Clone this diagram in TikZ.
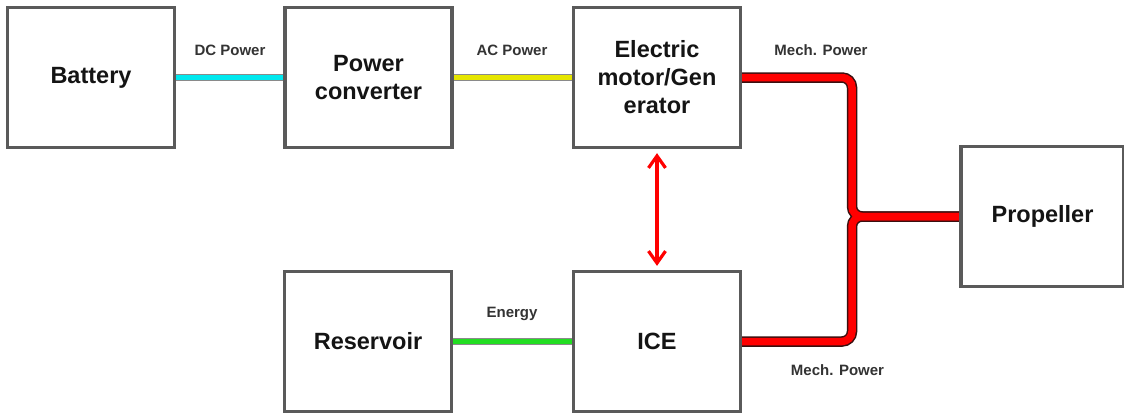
\documentclass[tikz,border=0pt]{standalone}
\usepackage{fontspec}
\setmainfont{Liberation Sans}
\usetikzlibrary{arrows.meta}
\definecolor{boxgray}{HTML}{5A5A5A}
\definecolor{labgray}{HTML}{333333}
\definecolor{cyanline}{HTML}{00E8EE}
\definecolor{yellowline}{HTML}{E6E600}
\definecolor{greenline}{HTML}{22DD22}
\definecolor{edgegray}{HTML}{8A8A8A}
\definecolor{darkedge}{HTML}{3A1010}
\tikzset{
  block/.style={draw=boxgray, line width=2.3pt, fill=white, minimum width=166pt, minimum height=139pt, inner sep=0pt, align=center, font=\fontsize{23.5}{28}\selectfont\bfseries, text=black!92},
  lab/.style={font=\fontsize{15}{18}\selectfont\bfseries, text=labgray},
  outer/.style={line width=7pt, draw=edgegray},
  redouter/.style={line width=10.5pt, draw=darkedge, rounded corners=10pt},
  redinner/.style={line width=7.5pt, draw=red, rounded corners=10pt},
}
\begin{document}
\begin{tikzpicture}[x=1pt,y=-1pt]
\useasboundingbox (0,0) rectangle (1124,413);
\fill[white] (0,0) rectangle (1124,413);
% nodes
\node[block] (bat) at (91,77.5) {Battery};
\node[block] (conv) at (368.5,77.5) {Power\\converter};
\node[block] (mot) at (657,77.5) {Electric\\motor/Gen\\erator};
\node[block] (res) at (368,341.5) {Reservoir};
\node[block] (ice) at (657,341.5) {ICE};
\node[block, minimum width=162pt] (prop) at (1042.5,216.5) {Propeller};
\coordinate (j) at (852,216.5);
% connectors
\draw[outer] (bat.east) -- (conv.west);
\draw[line width=5.8pt, cyanline] (bat.east) -- (conv.west);
\draw[outer] (conv.east) -- (mot.west);
\draw[line width=5.8pt, yellowline] (conv.east) -- (mot.west);
\draw[outer] (res.east) -- (ice.west);
\draw[line width=5.8pt, greenline] (res.east) -- (ice.west);
\draw[redouter] (mot.east) -| (j |- prop.west) -- (prop.west);
\draw[redouter] (ice.east) -| (j |- prop.west) -- (prop.west);
\draw[redinner] (mot.east) -| (j |- prop.west) -- (prop.west);
\draw[redinner] (ice.east) -| (j |- prop.west) -- (prop.west);
% redraw box borders over connector ends
\foreach \n in {bat,conv,mot,res,ice,prop}{\draw[boxgray, line width=2.3pt] (\n.north west) rectangle (\n.south east);}
% bidirectional arrow
\draw[red, line width=3.2pt, {Straight Barb[length=12pt,width=17pt]}-{Straight Barb[length=12pt,width=17pt]}] ([yshift=-5pt]mot.south) -- ([yshift=5pt]ice.north);
% labels
\node[lab] (l1) at (230,50) {DC Power};
\node[lab] (l2) at (512,50) {AC Power};
\node[lab] (l3) at (821,50) {Mech. Power};
\node[lab] (l4) at (837.5,370) {Mech. Power};
\node[lab] (l5) at (512,314) {Energy};
\end{tikzpicture}
\end{document}
